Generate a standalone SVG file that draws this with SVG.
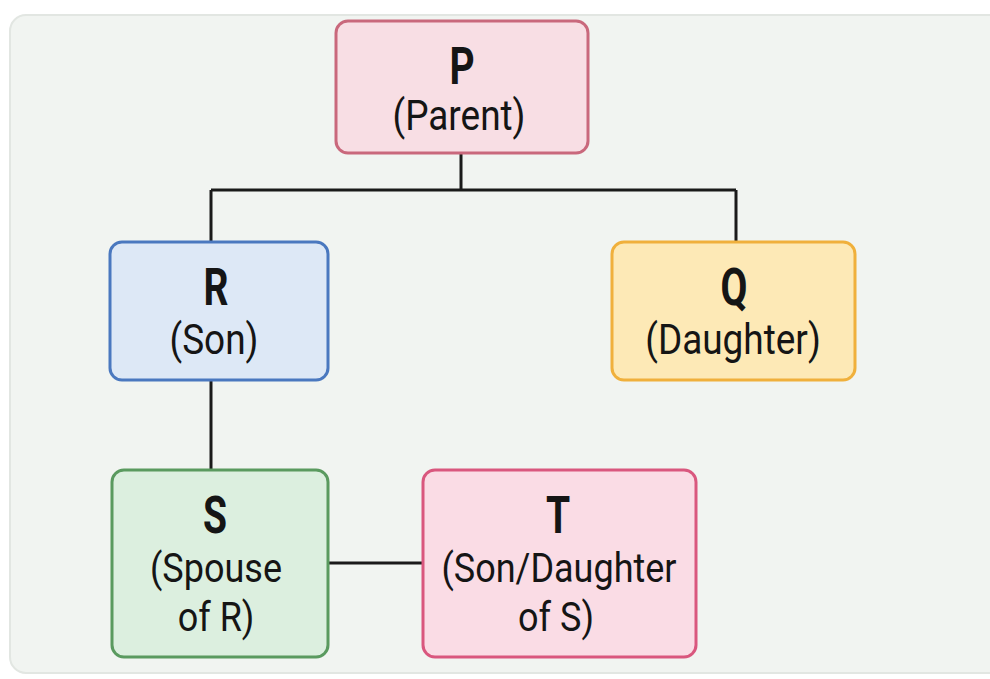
<svg xmlns="http://www.w3.org/2000/svg" width="990" height="679" viewBox="0 0 990 679">
<style>
.t{font-family:Roboto,"Liberation Sans",sans-serif;fill:#151515;text-anchor:middle}
.h{font-size:52px;font-weight:700}
.s{font-size:42px}
.s2{font-size:40px}
.box{stroke-width:3}
.c{stroke:#1a1a1a;stroke-width:3;fill:none}
</style>
<rect x="0" y="0" width="990" height="679" fill="#ffffff"/>
<rect x="10" y="15" width="1000" height="658" rx="16" fill="#f1f4f1" stroke="#e2e6e2" stroke-width="2"/>
<g id="connectors">
<path class="c" d="M461 153 V190 M211 190 H736 M211 190 V242 M736 190 V242"/>
<path class="c" d="M211 380 V470"/>
<path class="c" d="M328 563 H423"/>
</g>
<g id="P">
<rect class="box" x="336" y="21" width="252" height="132" rx="12" fill="#f8dee4" stroke="#c9687c"/>
<text class="t h" transform="translate(462 84) scale(0.75 1)">P</text>
<text class="t s" transform="translate(459 130) scale(0.88 1)">(Parent)</text>
</g>
<g id="R">
<rect class="box" x="110" y="242" width="218" height="138" rx="12" fill="#dde8f6" stroke="#4a78bf"/>
<text class="t h" transform="translate(216 305) scale(0.75 1)">R</text>
<text class="t s" transform="translate(214 354) scale(0.88 1)">(Son)</text>
</g>
<g id="Q">
<rect class="box" x="612" y="242" width="243" height="138" rx="12" fill="#fde9b6" stroke="#f0b03c"/>
<text class="t h" transform="translate(734 305) scale(0.75 1)">Q</text>
<text class="t s" transform="translate(733 354) scale(0.88 1)">(Daughter)</text>
</g>
<g id="S">
<rect class="box" x="112" y="470" width="216" height="187" rx="12" fill="#dcefdf" stroke="#5a9a5f"/>
<text class="t h" transform="translate(215 533) scale(0.75 1)">S</text>
<text class="t s2" transform="translate(216 582) scale(0.9 1)">(Spouse</text>
<text class="t s2" transform="translate(216 631) scale(0.9 1)">of R)</text>
</g>
<g id="T">
<rect class="box" x="423" y="470" width="273" height="187" rx="12" fill="#fadce5" stroke="#d9577e"/>
<text class="t h" transform="translate(558 533) scale(0.75 1)">T</text>
<text class="t s2" transform="translate(559 582) scale(0.9 1)">(Son/Daughter</text>
<text class="t s2" transform="translate(556 631) scale(0.9 1)">of S)</text>
</g>
</svg>
